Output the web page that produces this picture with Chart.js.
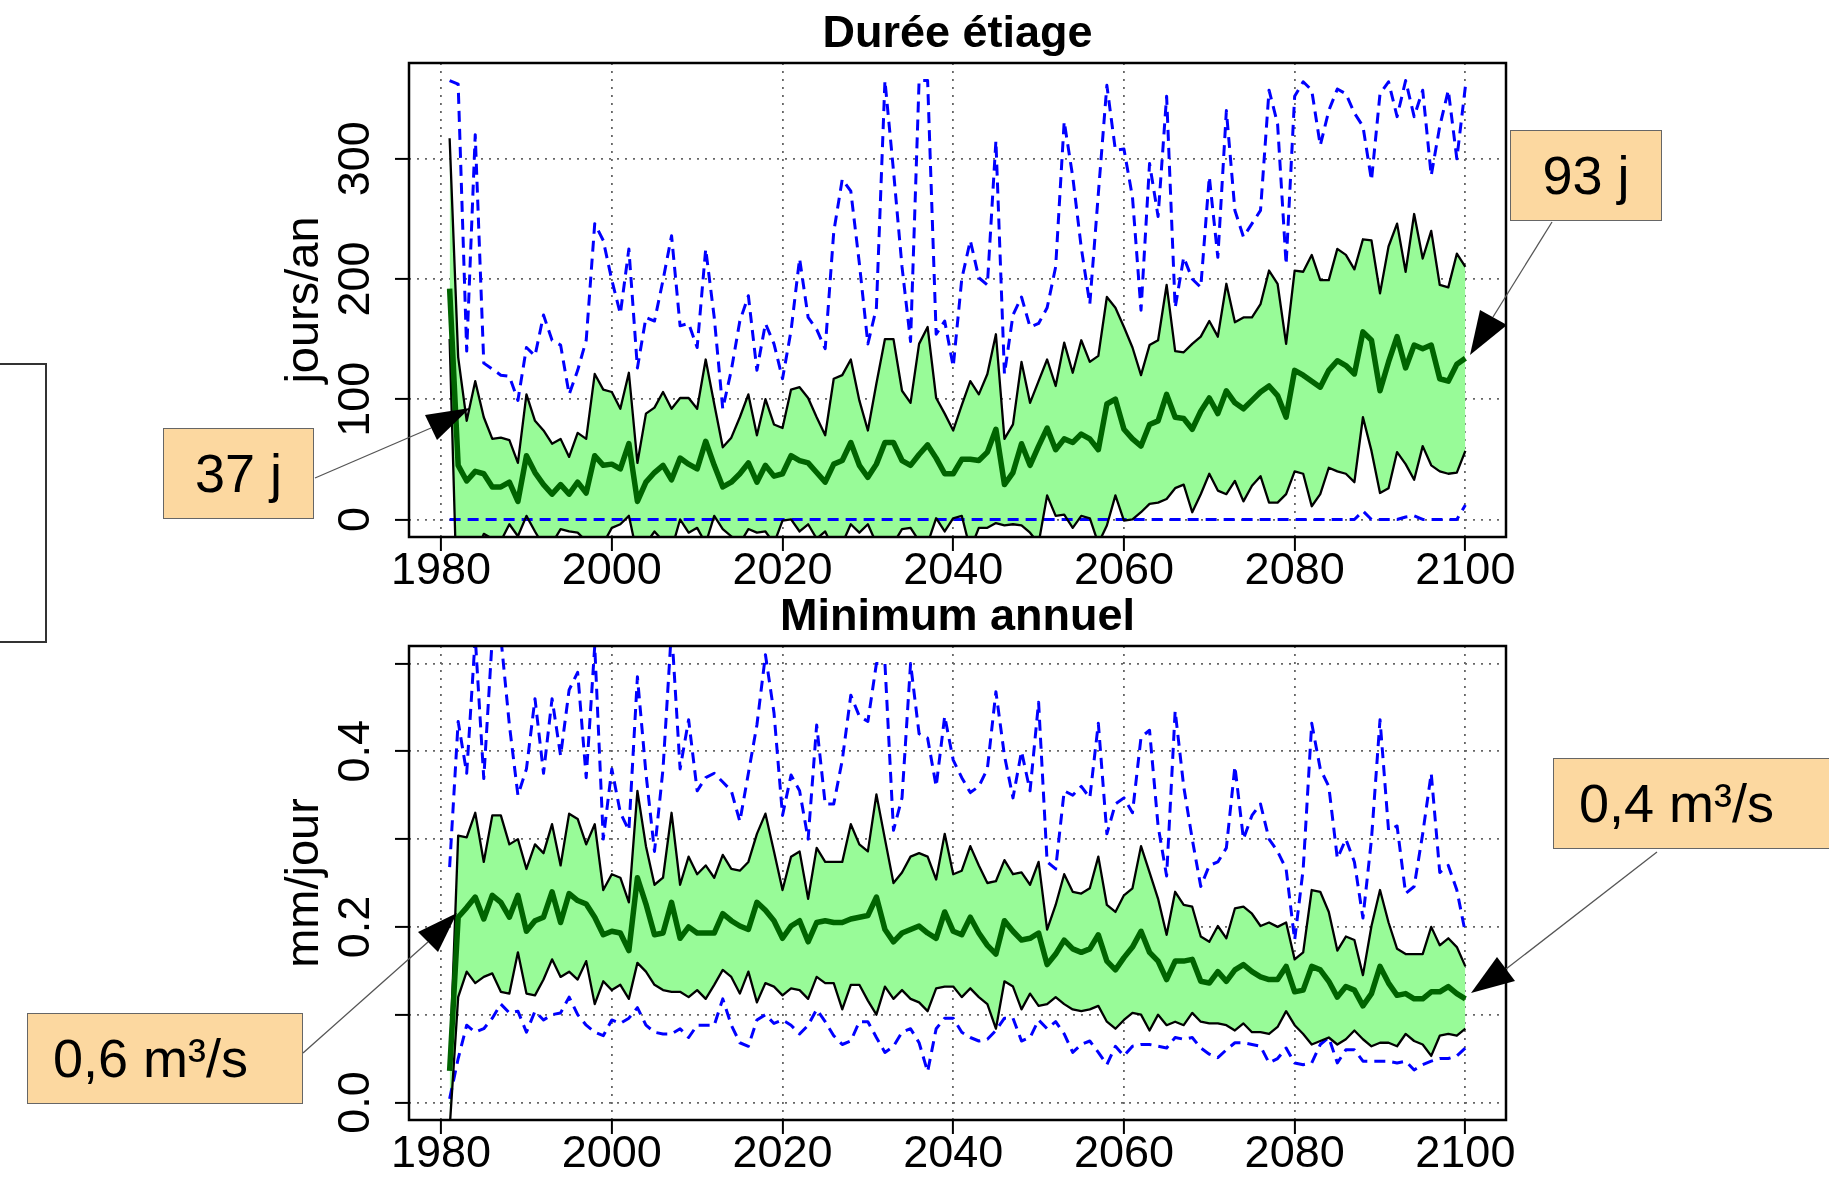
<!DOCTYPE html>
<html>
<head>
<meta charset="utf-8">
<script src="https://cdn.jsdelivr.net/npm/chart.js@4.4.1/dist/chart.umd.min.js"></script>
<style>
  html, body { margin: 0; padding: 0; background: #fff; overflow: hidden; }
  body { width: 1829px; height: 1177px; position: relative; font-family: "Liberation Sans", Arial, sans-serif; }
  canvas { position: absolute; left: 0; }
  #dureeChart { top: 0; }
  #minChart { top: 585px; }
  .note { position: absolute; box-sizing: border-box; background: #fcd8a0; border: 1.5px solid #666;
          font-size: 54px; line-height: 88px; color: #000; white-space: nowrap; }
  .frameBox { position: absolute; box-sizing: border-box; border: 2px solid #333; }
  svg { position: absolute; left: 0; top: 0; pointer-events: none; }
</style>
</head>
<body>
<canvas id="dureeChart" width="1829" height="600"></canvas>
<canvas id="minChart" width="1829" height="592"></canvas>

<div class="frameBox" style="left:-3px; top:363px; width:50px; height:280px;"></div>
<div class="note" style="left:163px; top:428px; width:151px; height:91px; text-align:center;">37 j</div>
<div class="note" style="left:1510px; top:130px; width:152px; height:91px; text-align:center;">93 j</div>
<div class="note" style="left:1553px; top:758px; width:300px; height:91px; padding-left:25px;">0,4 m³/s</div>
<div class="note" style="left:27px; top:1013px; width:276px; height:91px; padding-left:25px;">0,6 m³/s</div>

<svg width="1829" height="1177">
  <g stroke="#555" stroke-width="1.3">
    <line x1="315" y1="478" x2="431" y2="428"/>
    <line x1="1552" y1="222" x2="1493" y2="317"/>
    <line x1="1657" y1="852" x2="1506" y2="969"/>
    <line x1="303" y1="1053" x2="428" y2="942"/>
  </g>
  <g fill="#000">
    <polygon points="470,408 425,415 437,440"/>
    <polygon points="1470,355 1480,310 1507,325"/>
    <polygon points="1471,993 1497,957 1515,981"/>
    <polygon points="457,913 418,932 438,952"/>
  </g>
</svg>

<script>
// years 1981..2100
const years = Array.from({ length: 120 }, (_, i) => 1981 + i);
const xTicks = [1980, 2000, 2020, 2040, 2060, 2080, 2100];

// Durée étiage (jours/an)
const dureeMax = [
  365, 362, 140, 320, 130, 125, 120, 119, 99, 143,
  136, 170, 149, 145, 104, 124, 149, 246, 232, 199,
  171, 225, 126, 168, 165, 199, 236, 161, 163, 143,
  225, 168, 92, 124, 165, 186, 124, 163, 146, 117,
  157, 217, 168, 158, 142, 239, 283, 273, 213, 146,
  176, 365, 290, 210, 148, 365, 365, 154, 165, 127,
  200, 232, 201, 195, 315, 121, 170, 185, 160, 163,
  176, 210, 331, 285, 226, 179, 271, 361, 307, 308,
  268, 174, 296, 252, 352, 176, 218, 200, 193, 285,
  218, 340, 257, 235, 246, 257, 357, 329, 212, 352,
  364, 357, 311, 340, 358, 354, 338, 327, 282, 354,
  364, 335, 365, 335, 357, 286, 327, 357, 300, 360
];
const dureeHaut = [
  317, 135, 82, 115, 85, 67, 68, 66, 47, 104,
  82, 74, 63, 67, 52, 72, 67, 121, 108, 106,
  92, 122, 47, 88, 93, 106, 92, 101, 101, 92,
  133, 96, 60, 68, 85, 104, 70, 100, 79, 76,
  108, 110, 101, 85, 70, 117, 120, 133, 99, 74,
  113, 150, 150, 107, 97, 146, 160, 101, 88, 74,
  95, 115, 104, 121, 154, 67, 79, 131, 97, 115,
  133, 111, 147, 122, 149, 131, 136, 185, 176, 160,
  143, 120, 145, 149, 195, 140, 139, 146, 152, 165,
  152, 196, 164, 168, 168, 179, 207, 196, 146, 207,
  206, 220, 199, 199, 225, 220, 208, 233, 232, 188,
  227, 246, 206, 254, 217, 240, 195, 193, 221, 210
];
const dureeMed = [
  192, 45, 32, 40, 38, 27, 27, 31, 15, 53,
  39, 29, 21, 29, 21, 31, 22, 53, 45, 46,
  42, 63, 15, 31, 39, 45, 33, 51, 46, 42,
  65, 45, 27, 31, 38, 47, 31, 45, 36, 38,
  53, 49, 47, 39, 31, 46, 49, 64, 45, 35,
  46, 64, 64, 49, 45, 54, 62, 51, 38, 38,
  50, 50, 49, 56, 75, 29, 39, 63, 45, 61,
  76, 58, 67, 64, 71, 67, 58, 96, 100, 75,
  67, 61, 79, 82, 104, 85, 84, 75, 90, 101,
  88, 107, 97, 92, 99, 106, 111, 103, 85, 124,
  120, 115, 110, 124, 132, 128, 121, 156, 149, 107,
  131, 152, 126, 145, 142, 145, 117, 115, 129, 134
];
const dureeBas = [
  150, -100, -60, -30, -12, -16, -18, -4, -14, 3,
  -10, -22, -20, -8, -10, -11, -18, -25, -20, -7,
  -4, 3, -30, -20, -10, -18, -25, 0, -11, -7,
  -20, 3, -8, -14, -20, -8, -11, -10, -20, -1,
  0, -10, -4, -16, -10, -25, -20, -4, -11, -4,
  -20, -25, -20, -8, -7, -18, -20, 1, -10, 1,
  3, -25, -7, -7, -3, -5, -4, -5, -11, -20,
  20, 3, 4, -7, 3, 1, -20, -5, 20, -1,
  0, 6, 13, 14, 17, 26, 29, 6, 21, 38,
  24, 21, 32, 15, 28, 36, 14, 14, 21, 40,
  38, 11, 21, 43, 40, 38, 31, 85, 57, 22,
  26, 56, 46, 33, 61, 45, 40, 38, 39, 57
];
const dureeMin = [
  0, 0, 0, 0, 0, 0, 0, 0, 0, 0,
  0, 0, 0, 0, 0, 0, 0, 0, 0, 0,
  0, 0, 0, 0, 0, 0, 0, 0, 0, 0,
  0, 0, 0, 0, 0, 0, 0, 0, 0, 0,
  0, 0, 0, 0, 0, 0, 0, 0, 0, 0,
  0, 0, 0, 0, 0, 0, 0, 0, 0, 0,
  0, 0, 0, 0, 0, 0, 0, 0, 0, 0,
  0, 0, 0, 0, 0, 0, 0, 0, 0, 0,
  0, 0, 0, 0, 0, 0, 0, 0, 0, 0,
  0, 0, 0, 0, 0, 0, 0, 0, 0, 0,
  0, 0, 0, 0, 0, 0, 0, 7, 0, 0,
  0, 0, 2, 3, 0, 0, 0, 0, 0, 12
];
const dureeTicks = [0, 100, 200, 300];
const dureeTickText = ["0", "100", "200", "300"];

// Minimum annuel (mm/jour)
const minMax = [
  0.268, 0.434, 0.375, 0.53, 0.369, 0.53, 0.53, 0.43, 0.35, 0.38,
  0.46, 0.375, 0.46, 0.395, 0.47, 0.49, 0.37, 0.52, 0.30, 0.38,
  0.33, 0.31, 0.485, 0.375, 0.286, 0.38, 0.54, 0.38, 0.436, 0.355,
  0.37, 0.375, 0.365, 0.355, 0.32, 0.375, 0.43, 0.51, 0.444, 0.327,
  0.373, 0.355, 0.30, 0.43, 0.34, 0.34, 0.39, 0.464, 0.44, 0.434,
  0.50, 0.50, 0.31, 0.347, 0.50, 0.42, 0.415, 0.36, 0.44, 0.39,
  0.37, 0.353, 0.36, 0.38, 0.468, 0.395, 0.347, 0.40, 0.355, 0.456,
  0.274, 0.266, 0.355, 0.35, 0.36, 0.347, 0.432, 0.306, 0.34, 0.347,
  0.33, 0.416, 0.424, 0.315, 0.258, 0.446, 0.36, 0.30, 0.246, 0.27,
  0.274, 0.29, 0.383, 0.30, 0.327, 0.34, 0.30, 0.286, 0.266, 0.185,
  0.266, 0.432, 0.38, 0.36, 0.278, 0.30, 0.274, 0.21, 0.30, 0.436,
  0.31, 0.315, 0.238, 0.246, 0.306, 0.375, 0.262, 0.27, 0.242, 0.193
];
const minHaut = [
  0.04, 0.304, 0.302, 0.33, 0.274, 0.327, 0.327, 0.294, 0.30, 0.266,
  0.294, 0.284, 0.317, 0.27, 0.329, 0.323, 0.294, 0.317, 0.242, 0.26,
  0.256, 0.228, 0.355, 0.292, 0.248, 0.256, 0.33, 0.248, 0.28, 0.26,
  0.27, 0.256, 0.282, 0.266, 0.264, 0.274, 0.306, 0.329, 0.286, 0.242,
  0.28, 0.286, 0.232, 0.29, 0.274, 0.274, 0.274, 0.317, 0.294, 0.286,
  0.351, 0.30, 0.25, 0.262, 0.28, 0.284, 0.28, 0.254, 0.306, 0.26,
  0.264, 0.292, 0.27, 0.25, 0.252, 0.276, 0.26, 0.262, 0.248, 0.274,
  0.197, 0.225, 0.26, 0.24, 0.238, 0.244, 0.28, 0.225, 0.217, 0.236,
  0.244, 0.292, 0.262, 0.232, 0.191, 0.24, 0.225, 0.223, 0.189, 0.183,
  0.201, 0.187, 0.221, 0.223, 0.215, 0.201, 0.205, 0.20, 0.205, 0.163,
  0.171, 0.242, 0.24, 0.217, 0.173, 0.189, 0.185, 0.145, 0.201, 0.242,
  0.205, 0.175, 0.169, 0.169, 0.169, 0.20, 0.179, 0.187, 0.177, 0.155
];
const minMed = [
  0.036, 0.211, 0.222, 0.234, 0.209, 0.236, 0.228, 0.211, 0.236, 0.195,
  0.207, 0.211, 0.24, 0.205, 0.238, 0.23, 0.226, 0.211, 0.191, 0.195,
  0.193, 0.173, 0.256, 0.226, 0.191, 0.193, 0.228, 0.187, 0.20, 0.193,
  0.193, 0.193, 0.215, 0.207, 0.201, 0.197, 0.228, 0.219, 0.207, 0.187,
  0.201, 0.207, 0.183, 0.205, 0.207, 0.205, 0.205, 0.209, 0.211, 0.213,
  0.234, 0.197, 0.183, 0.193, 0.197, 0.201, 0.193, 0.187, 0.217, 0.195,
  0.191, 0.211, 0.193, 0.179, 0.169, 0.207, 0.195, 0.185, 0.187, 0.193,
  0.157, 0.169, 0.185, 0.175, 0.171, 0.175, 0.191, 0.161, 0.151, 0.165,
  0.177, 0.195, 0.171, 0.161, 0.14, 0.161, 0.161, 0.163, 0.138, 0.136,
  0.149, 0.138, 0.151, 0.157, 0.149, 0.143, 0.14, 0.14, 0.155, 0.126,
  0.128, 0.155, 0.151, 0.138, 0.12, 0.132, 0.128, 0.11, 0.124, 0.155,
  0.136, 0.122, 0.124, 0.118, 0.118, 0.126, 0.126, 0.132, 0.124, 0.118
];
const minBas = [
  -0.03, 0.12, 0.149, 0.136, 0.143, 0.147, 0.126, 0.124, 0.171, 0.124,
  0.122, 0.14, 0.163, 0.143, 0.149, 0.14, 0.161, 0.112, 0.138, 0.128,
  0.134, 0.118, 0.159, 0.149, 0.134, 0.128, 0.126, 0.126, 0.12, 0.128,
  0.118, 0.134, 0.151, 0.143, 0.124, 0.149, 0.114, 0.136, 0.132, 0.122,
  0.13, 0.128, 0.118, 0.143, 0.136, 0.136, 0.106, 0.134, 0.134, 0.116,
  0.10, 0.132, 0.118, 0.128, 0.118, 0.114, 0.104, 0.13, 0.132, 0.132,
  0.12, 0.13, 0.12, 0.112, 0.084, 0.138, 0.132, 0.106, 0.124, 0.11,
  0.112, 0.12, 0.112, 0.106, 0.104, 0.106, 0.11, 0.092, 0.084, 0.094,
  0.102, 0.10, 0.082, 0.10, 0.088, 0.092, 0.088, 0.102, 0.092, 0.09,
  0.09, 0.088, 0.082, 0.09, 0.08, 0.08, 0.078, 0.086, 0.104, 0.088,
  0.078, 0.066, 0.07, 0.074, 0.066, 0.072, 0.082, 0.072, 0.064, 0.068,
  0.068, 0.064, 0.078, 0.07, 0.066, 0.053, 0.076, 0.078, 0.076, 0.084
];
const minMin = [
  0.004, 0.05, 0.088, 0.08, 0.084, 0.096, 0.112, 0.102, 0.104, 0.08,
  0.104, 0.094, 0.10, 0.102, 0.12, 0.10, 0.088, 0.08, 0.076, 0.094,
  0.09, 0.096, 0.108, 0.088, 0.08, 0.078, 0.078, 0.084, 0.074, 0.088,
  0.088, 0.088, 0.118, 0.088, 0.068, 0.064, 0.094, 0.10, 0.09, 0.094,
  0.088, 0.078, 0.088, 0.106, 0.092, 0.076, 0.066, 0.07, 0.092, 0.092,
  0.074, 0.057, 0.064, 0.08, 0.084, 0.068, 0.035, 0.084, 0.096, 0.096,
  0.08, 0.074, 0.07, 0.072, 0.082, 0.096, 0.096, 0.07, 0.074, 0.094,
  0.084, 0.092, 0.078, 0.057, 0.066, 0.07, 0.057, 0.043, 0.064, 0.053,
  0.064, 0.066, 0.066, 0.064, 0.062, 0.074, 0.072, 0.074, 0.062, 0.055,
  0.051, 0.06, 0.068, 0.068, 0.066, 0.064, 0.045, 0.05, 0.062, 0.045,
  0.043, 0.045, 0.066, 0.074, 0.045, 0.06, 0.06, 0.047, 0.047, 0.047,
  0.047, 0.045, 0.047, 0.037, 0.043, 0.047, 0.05, 0.05, 0.053, 0.062
];
const minTicks = [0, 0.1, 0.2, 0.3, 0.4, 0.5];
const minTickText = ["0.0", "", "0.2", "", "0.4", ""];

const FONT = '"Liberation Sans", Arial, Helvetica, sans-serif';

function series(vals) {
  return years.map((yr, i) => ({ x: yr, y: vals[i] }));
}

// box around the plot + vertical y tick labels (R style)
const framePlugin = {
  id: "frame",
  afterDatasetsDraw(chart) {
    const { ctx, chartArea: a } = chart;
    ctx.save();
    ctx.strokeStyle = "#000";
    ctx.lineWidth = 2.5;
    ctx.strokeRect(a.left, a.top, a.right - a.left, a.bottom - a.top);
    ctx.restore();
  },
  afterDraw(chart, args, opts) {
    const { ctx } = chart;
    const y = chart.scales.y;
    ctx.save();
    ctx.fillStyle = "#000";
    ctx.font = "45px " + FONT;
    ctx.textAlign = "center";
    ctx.textBaseline = "middle";
    opts.values.forEach((v, i) => {
      if (!opts.text[i]) return;
      ctx.save();
      ctx.translate(357, y.getPixelForValue(v));
      ctx.rotate(-Math.PI / 2);
      ctx.fillText(opts.text[i], 0, 0);
      ctx.restore();
    });
    ctx.restore();
  }
};

function buildChart(id, o) {
  const grid = { color: "#666", lineWidth: 1.8, tickLength: 14, tickWidth: 2, tickColor: "#000" };
  return new Chart(document.getElementById(id), {
    type: "line",
    data: {
      datasets: [
        { data: series(o.med), borderColor: "#006400", borderWidth: 5.5 },
        { data: series(o.haut), borderColor: "#000", borderWidth: 2.3, fill: "+1", backgroundColor: "#98fb98" },
        { data: series(o.bas), borderColor: "#000", borderWidth: 2.3 },
        { data: series(o.max), borderColor: "#0000ff", borderWidth: 3, borderDash: [11, 7] },
        { data: series(o.min), borderColor: "#0000ff", borderWidth: 3, borderDash: [11, 7] }
      ]
    },
    options: {
      responsive: false,
      animation: false,
      devicePixelRatio: 1,
      layout: { padding: { left: 0, right: 323, top: 0, bottom: 0 } },
      elements: { point: { radius: 0 }, line: { tension: 0, borderJoinStyle: "round" } },
      plugins: {
        legend: { display: false },
        tooltip: { enabled: false },
        filler: { drawTime: "beforeDatasetsDraw" },
        title: {
          display: true, text: o.title, fullSize: false, color: "#000",
          font: { family: FONT, size: 45, weight: "bold", lineHeight: 1.2 },
          padding: { top: o.titleTop, bottom: o.titleBottom }
        },
        frame: { values: o.yTicks, text: o.yText }
      },
      scales: {
        x: {
          type: "linear", min: 1976.24, max: 2104.76,
          afterBuildTicks: s => { s.ticks = xTicks.map(v => ({ value: v })); },
          afterFit: s => { s.height = o.xAxisHeight; },
          ticks: {
            color: "#000", font: { family: FONT, size: 45, lineHeight: 1 },
            padding: o.xPad, maxRotation: 0, autoSkip: false, callback: v => String(v)
          },
          grid: grid,
          border: { display: false, dash: [2, 6] }
        },
        y: {
          type: "linear", min: o.yMin, max: o.yMax,
          afterBuildTicks: s => { s.ticks = o.yTicks.map(v => ({ value: v })); },
          afterFit: s => { s.width = 409; },
          ticks: { display: false },
          title: {
            display: true, text: o.yTitle, color: "#000",
            font: { family: FONT, size: 47, lineHeight: 1.2 },
            padding: { top: 277, bottom: 0 }
          },
          grid: grid,
          border: { display: false, dash: [2, 6] }
        }
      }
    },
    plugins: [framePlugin]
  });
}

buildChart("dureeChart", {
  title: "Durée étiage", titleTop: 8, titleBottom: 1,
  med: dureeMed, haut: dureeHaut, bas: dureeBas, max: dureeMax, min: dureeMin,
  yMin: -14.6, yMax: 379.6, yTicks: dureeTicks, yText: dureeTickText, yTitle: "jours/an",
  xAxisHeight: 63, xPad: -2
});

buildChart("minChart", {
  title: "Minimum annuel", titleTop: 6, titleBottom: 1,
  med: minMed, haut: minHaut, bas: minBas, max: minMax, min: minMin,
  yMin: -0.02, yMax: 0.52, yTicks: minTicks, yText: minTickText, yTitle: "mm/jour",
  xAxisHeight: 57, xPad: -2
});
</script>
</body>
</html>
